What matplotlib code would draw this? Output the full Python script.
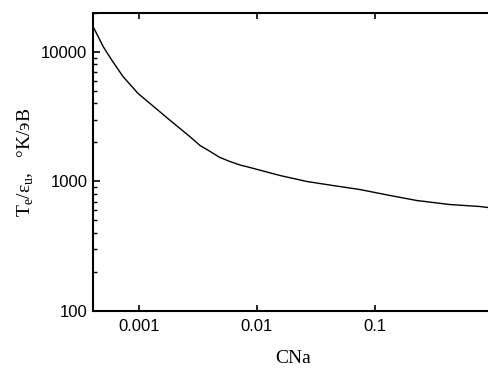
import matplotlib.pyplot as plt
import numpy as np
from matplotlib.ticker import LogLocator, NullLocator, FixedLocator, FixedFormatter

# Te/eps vs sodium concentration
cna = [4.16e-4, 5.0e-4, 5.91e-4, 7.31e-4, 9.8e-4, 1.24e-3, 1.76e-3, 2.70e-3,
       3.29e-3, 4.0e-3, 4.8e-3, 5.9e-3, 7.2e-3, 8.73e-3, 0.0157, 0.0265,
       0.0441, 0.0746, 0.134, 0.227, 0.432, 0.776, 0.908, 1.0]
te = [15170, 10900, 8590, 6470, 4790, 4000, 3060, 2220,
      1897, 1708, 1540, 1426, 1340, 1282, 1112, 1000,
      931, 867, 780, 713, 664, 641, 630, 625]

xticks = [0.001, 0.01, 0.1, 1]
xlabels = ['0.001', '0.01', '0.1', '1']
yticks = [100, 1000, 10000]
ylabels = ['100', '1000', '10000']

plt.rcParams['font.family'] = ['Liberation Sans', 'DejaVu Sans']

fig = plt.figure(figsize=(4.89, 3.69), dpi=100)
ax = fig.add_axes([0.190, 0.157, 0.818, 0.808])

ax.plot(cna, te, color='black', lw=1.0)

ax.set_xscale('log')
ax.set_yscale('log')
ax.set_xlim(4.07e-4, 1.0)
ax.set_ylim(100, 20000)

ax.xaxis.set_major_locator(FixedLocator(xticks))
ax.xaxis.set_major_formatter(FixedFormatter(xlabels))
ax.xaxis.set_minor_locator(NullLocator())
ax.yaxis.set_major_locator(FixedLocator(yticks))
ax.yaxis.set_major_formatter(FixedFormatter(ylabels))
ax.yaxis.set_minor_locator(LogLocator(base=10, subs=np.arange(2, 10)))

ax.tick_params(axis='x', which='major', direction='in', top=True, length=4,
               width=1.2, labelsize=12, pad=6)
ax.tick_params(axis='y', which='major', direction='in', length=5, width=1.2,
               labelsize=12, pad=4)
ax.tick_params(axis='y', which='minor', direction='in', length=3, width=1.0)

for s in ax.spines.values():
    s.set_linewidth(1.5)

serif = ['Liberation Serif', 'DejaVu Serif']
ax.set_xlabel('CNa', family=serif, fontsize=14, labelpad=11)
ax.set_ylabel('T$_\\mathregular{e}$/ε$_\\mathregular{u}$,   °K/эВ', family=serif,
              fontsize=14, labelpad=4)

fig.savefig('out.png', dpi=100)
